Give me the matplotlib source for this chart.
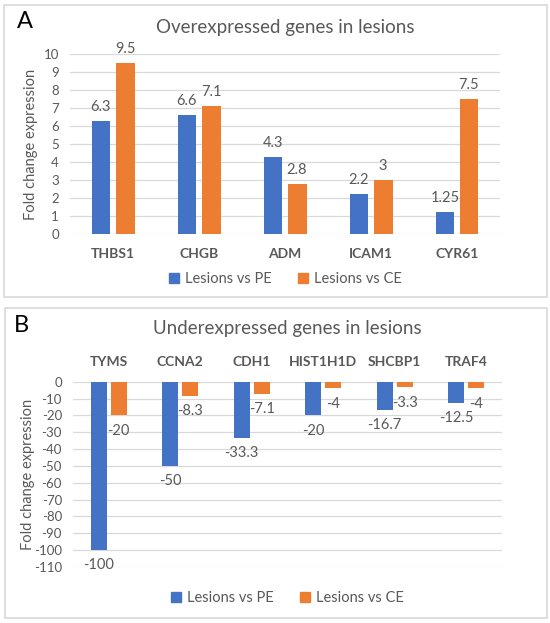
import matplotlib
matplotlib.use("Agg")
import matplotlib.pyplot as plt
import numpy as np
from matplotlib.patches import Rectangle, Patch

plt.rcParams['font.family'] = ['Lato', 'DejaVu Sans']
plt.rcParams['axes.unicode_minus'] = False

# data
genes_up = ['THBS1', 'CHGB', 'ADM', 'ICAM1', 'CYR61']
up_pe = [6.3, 6.6, 4.3, 2.2, 1.25]
up_ce = [9.5, 7.1, 2.8, 3, 7.5]
up_pe_lbl = ['6.3', '6.6', '4.3', '2.2', '1.25']
up_ce_lbl = ['9.5', '7.1', '2.8', '3', '7.5']

genes_down = ['TYMS', 'CCNA2', 'CDH1', 'HIST1H1D', 'SHCBP1', 'TRAF4']
down_pe = [-100, -50, -33.3, -20, -16.7, -12.5]
down_ce = [-20, -8.3, -7.1, -4, -3.3, -4]
down_pe_lbl = ['-100', '-50', '-33.3', '-20', '-16.7', '-12.5']
down_ce_lbl = ['-20', '-8.3', '-7.1', '-4', '-3.3', '-4']

BLUE = '#4472C4'
ORANGE = '#ED7D31'
GREY = '#595959'
GRID = '#D9D9D9'

fig = plt.figure(figsize=(5.5, 6.23), dpi=100)

# panel frames
fig.patches.append(Rectangle((4/550, 1-297/623), 543/550, 292/623, transform=fig.transFigure,
                             fill=False, edgecolor='#D9D9D9', lw=1.2))
fig.patches.append(Rectangle((5/550, 1-618/623), 542/550, 310/623, transform=fig.transFigure,
                             fill=False, edgecolor='#D9D9D9', lw=1.2))

def style(ax):
    for s in ax.spines.values():
        s.set_visible(False)
    ax.grid(axis='y', color=GRID, lw=0.9)
    ax.set_axisbelow(True)
    ax.tick_params(axis='y', length=0, colors=GREY, labelsize=9.5, pad=8)
    ax.tick_params(axis='x', length=0, colors=GREY, labelsize=10)
    for t in ax.get_xticklabels():
        t.set_fontweight('bold')
    ax.set_ylabel('Fold change expression', color=GREY, fontsize=10.5)

w = 0.22
off = 0.14

# Panel A
axA = fig.add_axes([70/550, 1-234/623, 430/550, 180/623])
x = np.arange(len(genes_up))
bA1 = axA.bar(x - off, up_pe, w, color=BLUE)
bA2 = axA.bar(x + off, up_ce, w, color=ORANGE)
axA.bar_label(bA1, labels=up_pe_lbl, padding=5, color=GREY, fontsize=10.5)
axA.bar_label(bA2, labels=up_ce_lbl, padding=5, color=GREY, fontsize=10.5)
axA.set_ylim(0, 10)
axA.set_yticks(range(0, 11))
axA.set_xlim(-0.5, len(genes_up) - 0.5)
axA.set_xticks(x)
axA.set_xticklabels(genes_up)
style(axA)
axA.tick_params(axis='x', pad=10)
axA.yaxis.set_label_coords(-0.075, 0.5)
axA.set_title('Overexpressed genes in lesions', color=GREY, fontsize=13.5, pad=15)
fig.text(17/550, 1-22/623, 'A', fontsize=17, color='black', va='center')
axA.legend(handles=[Patch(color=BLUE, label='Lesions vs PE'), Patch(color=ORANGE, label='Lesions vs CE')],
           loc='upper center', bbox_to_anchor=(0.5, -0.14), ncol=2, frameon=False,
           handlelength=0.7, handleheight=0.7, handletextpad=0.4, columnspacing=1.8,
           labelcolor=GREY, fontsize=10.5)

# Panel B
axB = fig.add_axes([73/550, 1-567/623, 429/550, 185.3/623])
x = np.arange(len(genes_down))
bB1 = axB.bar(x - off, down_pe, w, color=BLUE)
bB2 = axB.bar(x + off, down_ce, w, color=ORANGE)
axB.bar_label(bB1, labels=down_pe_lbl, padding=6, color=GREY, fontsize=10.5)
axB.bar_label(bB2, labels=down_ce_lbl, padding=6, color=GREY, fontsize=10.5)
axB.set_ylim(-110, 0)
axB.set_yticks(range(-110, 1, 10))
axB.set_xlim(-0.5, len(genes_down) - 0.5)
axB.set_xticks(x)
axB.set_xticklabels(genes_down)
axB.xaxis.tick_top()
style(axB)
axB.tick_params(axis='x', pad=10)
axB.yaxis.set_label_coords(-0.088, 0.5)
axB.set_title('Underexpressed genes in lesions', color=GREY, fontsize=13.5, pad=34)
fig.text(14/550, 1-325/623, 'B', fontsize=17, color='black', va='center')
axB.legend(handles=[Patch(color=BLUE, label='Lesions vs PE'), Patch(color=ORANGE, label='Lesions vs CE')],
           loc='upper center', bbox_to_anchor=(0.5, -0.06), ncol=2, frameon=False,
           handlelength=0.7, handleheight=0.7, handletextpad=0.4, columnspacing=1.8,
           labelcolor=GREY, fontsize=10.5)

fig.savefig('out.png', dpi=100)
